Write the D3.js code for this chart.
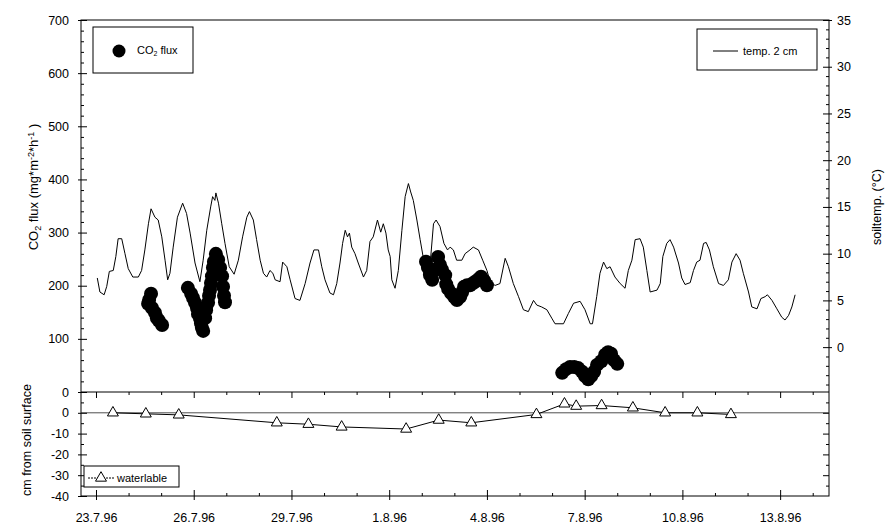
<!DOCTYPE html>
<html>
<head>
<meta charset="utf-8">
<script src="https://cdn.jsdelivr.net/npm/d3@7"></script>
<style>
  body { margin: 0; background: #fff; }
  svg { font-family: "Liberation Sans", Arial, sans-serif; }
  .tick text { font-size: 12.5px; fill: #000; }
  .tick line { stroke: #000; }
</style>
</head>
<body>
<div id="chart"></div>
<script>
// x axis: days after 23.7.96
const xMajor = [0, 3, 6, 9, 12, 15, 18, 21];
const xLabels = ["23.7.96", "26.7.96", "29.7.96", "1.8.96", "4.8.96", "7.8.96", "10.8.96", "13.8.96"];

// soil temperature at 2 cm (°C)
const tempDay = [0.04, 0.12, 0.25, 0.33, 0.41, 0.53, 0.61, 0.68, 0.79, 0.89, 0.99, 1.13, 1.30, 1.40, 1.50, 1.61, 1.69, 1.81, 1.91, 2.02,
  2.12, 2.20, 2.27, 2.37, 2.50, 2.66, 2.78, 2.89, 3.04, 3.19, 3.29, 3.40, 3.52, 3.58, 3.65, 3.68, 3.76, 3.86, 3.96, 4.09,
  4.24, 4.37, 4.50, 4.63, 4.71, 4.83, 4.93, 5.04, 5.14, 5.24, 5.34, 5.43, 5.50, 5.65, 5.73, 5.86, 5.96, 6.11, 6.26, 6.42,
  6.57, 6.69, 6.83, 6.93, 7.03, 7.18, 7.29, 7.39, 7.49, 7.57, 7.65, 7.72, 7.78, 7.85, 7.95, 8.05, 8.21, 8.31, 8.41, 8.51,
  8.64, 8.74, 8.82, 8.90, 8.97, 9.03, 9.08, 9.18, 9.28, 9.39, 9.49, 9.59, 9.66, 9.74, 9.85, 9.95, 10.05, 10.15, 10.25, 10.36,
  10.44, 10.56, 10.68, 10.79, 10.87, 10.97, 11.07, 11.23, 11.33, 11.48, 11.58, 11.74, 11.87, 12.00, 12.10, 12.25, 12.40, 12.56, 12.66, 12.81,
  12.97, 13.12, 13.27, 13.43, 13.53, 13.68, 13.84, 13.99, 14.09, 14.35, 14.50, 14.66, 14.86, 15.01, 15.17, 15.24, 15.37, 15.47, 15.58, 15.68,
  15.78, 15.93, 16.09, 16.24, 16.34, 16.45, 16.55, 16.70, 16.80, 16.91, 17.01, 17.22, 17.32, 17.40, 17.52, 17.62, 17.73, 17.88, 17.98, 18.08,
  18.24, 18.34, 18.44, 18.54, 18.65, 18.73, 18.83, 18.95, 19.11, 19.26, 19.41, 19.52, 19.65, 19.77, 19.87, 20.03, 20.13, 20.29, 20.41, 20.54,
  20.61, 20.75, 20.90, 21.05, 21.15, 21.26, 21.36, 21.46];
const tempC = [7.4, 5.9, 5.6, 6.5, 8.1, 8.2, 9.7, 11.6, 11.6, 10.0, 8.4, 7.5, 7.5, 8.2, 10.4, 13.2, 14.8, 13.9, 13.6, 11.8,
  9.3, 7.2, 7.9, 10.7, 13.9, 15.4, 14.3, 12.2, 9.0, 7.0, 9.3, 12.5, 15.0, 16.1, 15.7, 16.5, 15.4, 13.2, 11.1, 8.6,
  7.8, 9.3, 11.8, 13.9, 14.5, 13.6, 11.5, 9.3, 7.9, 7.5, 8.2, 7.9, 7.2, 7.0, 9.1, 8.6, 7.2, 5.2, 5.0, 6.8,
  9.0, 10.4, 10.4, 8.6, 7.2, 5.8, 5.6, 6.8, 9.0, 11.1, 12.5, 11.8, 12.2, 10.7, 10.0, 9.0, 7.5, 8.2, 11.3, 11.8,
  13.6, 12.3, 13.2, 12.2, 10.4, 9.7, 7.2, 6.3, 8.2, 12.5, 16.1, 17.5, 16.6, 15.7, 13.6, 11.5, 9.5, 8.8, 8.6, 13.2,
  13.6, 12.9, 11.1, 10.4, 10.7, 10.4, 9.3, 9.3, 10.0, 10.4, 10.7, 10.4, 9.3, 8.2, 7.0, 6.6, 6.8, 9.5, 8.6, 6.8,
  5.4, 4.0, 3.8, 5.0, 4.5, 4.3, 4.0, 3.1, 2.5, 2.5, 3.6, 4.7, 4.9, 4.0, 2.5, 2.5, 5.4, 7.9, 9.1, 8.4,
  8.6, 7.5, 6.8, 6.3, 8.2, 9.3, 11.5, 11.6, 10.7, 8.2, 5.9, 6.1, 6.8, 9.7, 11.1, 11.5, 10.7, 9.0, 7.4, 6.7,
  6.9, 8.2, 9.1, 9.3, 11.1, 11.2, 10.4, 8.6, 6.8, 6.6, 7.2, 9.1, 10.0, 9.3, 7.9, 5.9, 4.3, 4.1, 5.2, 5.4,
  5.6, 5.0, 4.1, 3.2, 2.9, 3.4, 4.3, 5.6];

// CO2 flux (mg*m-2*h-1)
const fluxDay = [1.60, 1.63, 1.69, 1.72, 1.81, 1.87, 1.93, 2.03,
  2.82, 2.92, 2.98, 3.04, 3.10, 3.13, 3.19, 3.22, 3.25, 3.29, 3.35, 3.38, 3.44, 3.47, 3.50, 3.53, 3.56, 3.59, 3.62, 3.68, 3.75, 3.81, 3.87, 3.90, 3.93, 3.96,
  10.13, 10.19, 10.25, 10.32, 10.41, 10.50, 10.56, 10.62, 10.72, 10.75, 10.81, 10.90, 10.99, 11.08, 11.18, 11.24, 11.30, 11.39, 11.48, 11.58, 11.67, 11.76, 11.82, 11.92, 12.00,
  14.31, 14.43, 14.55, 14.68, 14.80, 14.92, 15.01, 15.11, 15.20, 15.29, 15.38, 15.51, 15.63, 15.72, 15.81, 15.90, 16.00];
const fluxVal = [166, 173, 185, 158, 149, 139, 134, 126,
  196, 185, 177, 168, 158, 147, 139, 130, 121, 115, 139, 154, 168, 181, 192, 205, 218, 234, 245, 260, 249, 234, 218, 198, 181, 169,
  245, 234, 220, 211, 230, 254, 239, 230, 220, 203, 194, 186, 179, 173, 179, 188, 198, 201, 201, 205, 209, 213, 217, 209, 201,
  36, 43, 47, 47, 45, 38, 30, 24, 30, 38, 51, 58, 70, 75, 72, 60, 53];

// water table (cm from soil surface)
const wtDay = [0.52, 1.53, 2.54, 5.55, 6.52, 7.54, 9.52, 10.52, 11.52, 13.52, 14.38, 14.74, 15.52, 16.48, 17.47, 18.46, 19.49];
const wtCm = [0, -0.5, -1, -4.8, -5.5, -6.8, -7.8, -3.5, -4.8, -0.8, 4.3, 3.2, 3.5, 2.4, 0, 0, -0.8];

const W = 889, H = 524;
const plotLeft = 81, plotRight = 829, plotTop = 20, plotMid = 392, plotBottom = 496;

const svg = d3.select("#chart").append("svg")
    .attr("width", W)
    .attr("height", H);

// Scales
const x = d3.scaleLinear().domain([-0.46, 22.5]).range([plotLeft, plotRight]);
const yFlux = d3.scaleLinear().domain([0, 700]).range([plotMid, plotTop]);
const yTemp = d3.scaleLinear().domain([-4.8, 35]).range([plotMid, plotTop]);
const yWt = d3.scaleLinear().domain([-40, 10]).range([plotBottom, plotMid]);

// Frames
svg.append("rect")
    .attr("x", plotLeft).attr("y", plotTop)
    .attr("width", plotRight - plotLeft).attr("height", plotBottom - plotTop)
    .attr("fill", "none").attr("stroke", "#000");
svg.append("line")
    .attr("x1", plotLeft).attr("x2", plotRight)
    .attr("y1", plotMid).attr("y2", plotMid)
    .attr("stroke", "#000");

// helper for axes with crossing major ticks and small minor ticks
function axisPair(axisFn, scale, major, minor, transform, pad, fmt) {
    const gMinor = svg.append("g")
        .attr("transform", transform)
        .call(axisFn(scale).tickValues(minor).tickSize(-3).tickFormat(""));
    gMinor.select(".domain").remove();
    const gMajor = svg.append("g")
        .attr("transform", transform)
        .call(axisFn(scale).tickValues(major).tickSize(-6).tickPadding(pad).tickFormat(fmt));
    gMajor.select(".domain").remove();
    gMajor.selectAll("text").style("font-family", "Liberation Sans, Arial, sans-serif");
    return gMajor;
}

// Left axis, top panel
axisPair(d3.axisLeft, yFlux, d3.range(0, 701, 100), d3.range(20, 700, 20).filter(v => v % 100),
    `translate(${plotLeft},0)`, 12, d => d)
    .selectAll(".tick line").attr("x1", -3);

// Right axis, top panel
axisPair(d3.axisRight, yTemp, d3.range(0, 36, 5), d3.range(-4, 35, 1).filter(v => v % 5),
    `translate(${plotRight},0)`, 8, d => d)
    .selectAll(".tick line").attr("x1", 3);

// Left axis, bottom panel
axisPair(d3.axisLeft, yWt, [-40, -30, -20, -10, 0], [-35, -25, -15, -5, 5],
    `translate(${plotLeft},0)`, 12, d => d)
    .selectAll(".tick line").attr("x1", -3);

// Right axis, bottom panel
axisPair(d3.axisRight, yWt, [-30, -20, -10, 0], [-35, -25, -15, -5, 5],
    `translate(${plotRight},0)`, 8, () => "");

// X axis at bottom
const xMinor = d3.range(0, 23, 1).filter(d => d % 3);
axisPair(d3.axisBottom, x, xMajor, xMinor, `translate(0,${plotBottom})`, 17, (d, i) => xLabels[i])
    .selectAll(".tick line").attr("y1", 4);

// x ticks hanging from the panel divider
const gTopTicks = svg.append("g").attr("transform", `translate(0,${plotMid})`);
gTopTicks.call(d3.axisTop(x).tickValues(xMajor).tickSize(-6).tickFormat(""));
gTopTicks.append("g").call(d3.axisTop(x).tickValues(xMinor).tickSize(-3).tickFormat(""));
gTopTicks.selectAll(".domain").remove();

// zero line in the water table panel
svg.append("line")
    .attr("x1", plotLeft).attr("x2", plotRight)
    .attr("y1", yWt(0)).attr("y2", yWt(0))
    .attr("stroke", "#222").attr("stroke-width", 0.8);

// Temperature line
const tempLine = d3.line()
    .x((d, i) => x(tempDay[i]))
    .y(d => yTemp(d));
svg.append("path")
    .datum(tempC)
    .attr("d", tempLine)
    .attr("fill", "none")
    .attr("stroke", "#000")
    .attr("stroke-width", 1);

// CO2 flux dots
svg.selectAll(".flux")
    .data(fluxVal)
    .enter()
    .append("circle")
    .attr("class", "flux")
    .attr("cx", (d, i) => x(fluxDay[i]))
    .attr("cy", d => yFlux(d))
    .attr("r", 7)
    .attr("fill", "#000");

// Water table
const wtLine = d3.line()
    .x((d, i) => x(wtDay[i]))
    .y(d => yWt(d));
svg.append("path")
    .datum(wtCm)
    .attr("d", wtLine)
    .attr("fill", "none")
    .attr("stroke", "#000")
    .attr("stroke-width", 1);

const tri = d3.symbol().type(d3.symbolTriangle).size(52);
svg.selectAll(".wt")
    .data(wtCm)
    .enter()
    .append("path")
    .attr("class", "wt")
    .attr("d", tri)
    .attr("transform", (d, i) => `translate(${x(wtDay[i])},${yWt(d)})`)
    .attr("fill", "#fff")
    .attr("stroke", "#000");

// Axis titles
const co2Label = svg.append("text")
    .attr("transform", "translate(38,187) rotate(-90)")
    .attr("text-anchor", "middle")
    .style("font-size", "13px");
co2Label.append("tspan").text("CO");
co2Label.append("tspan").attr("baseline-shift", "-30%").style("font-size", "9px").text("2");
co2Label.append("tspan").text(" flux (mg*m");
co2Label.append("tspan").attr("baseline-shift", "45%").style("font-size", "9px").text("-2");
co2Label.append("tspan").text("*h");
co2Label.append("tspan").attr("baseline-shift", "45%").style("font-size", "9px").text("-1");
co2Label.append("tspan").text(" )");

svg.append("text")
    .attr("transform", "translate(881,207) rotate(-90)")
    .attr("text-anchor", "middle")
    .style("font-size", "12.5px")
    .text("soiltemp. (°C)");

svg.append("text")
    .attr("transform", "translate(31,440) rotate(-90)")
    .attr("text-anchor", "middle")
    .style("font-size", "12.5px")
    .text("cm from soil surface");

// Legends
svg.append("rect").attr("x", 93).attr("y", 27).attr("width", 100).attr("height", 46)
    .attr("fill", "#fff").attr("stroke", "#000");
svg.append("circle").attr("cx", 119).attr("cy", 51).attr("r", 6.5).attr("fill", "#000");
const co2Leg = svg.append("text").attr("x", 137).attr("y", 54).style("font-size", "11px");
co2Leg.append("tspan").text("CO");
co2Leg.append("tspan").attr("baseline-shift", "-35%").style("font-size", "7px").text("2");
co2Leg.append("tspan").text(" flux");

svg.append("rect").attr("x", 697).attr("y", 29).attr("width", 120).attr("height", 41)
    .attr("fill", "#fff").attr("stroke", "#000");
svg.append("line").attr("x1", 713).attr("x2", 738).attr("y1", 51).attr("y2", 51)
    .attr("stroke", "#000");
svg.append("text").attr("x", 743).attr("y", 55).style("font-size", "11px").text("temp. 2 cm");

svg.append("rect").attr("x", 84).attr("y", 466).attr("width", 95).attr("height", 21)
    .attr("fill", "#fff").attr("stroke", "#000");
svg.append("line").attr("x1", 88).attr("x2", 114).attr("y1", 478).attr("y2", 478)
    .attr("stroke", "#000").attr("stroke-dasharray", "2,1");
svg.append("path").attr("d", tri).attr("transform", "translate(101,478)")
    .attr("fill", "#fff").attr("stroke", "#000");
svg.append("text").attr("x", 117).attr("y", 482).style("font-size", "11px").text("waterlable");
</script>
</body>
</html>
